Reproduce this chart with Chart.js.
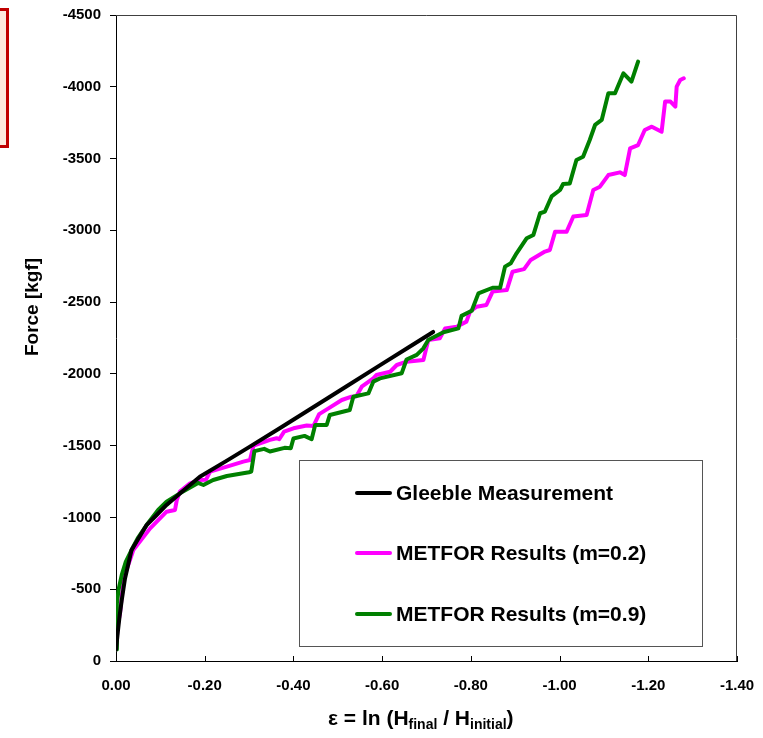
<!DOCTYPE html>
<html>
<head>
<meta charset="utf-8">
<script src="https://cdn.jsdelivr.net/npm/chart.js@4.4.1/dist/chart.umd.min.js"></script>
<style>
  html, body { margin: 0; padding: 0; background: #fff; overflow: hidden; }
  #wrap { position: relative; width: 763px; height: 738px; }
  #redbox { position: absolute; left: -20px; top: 8px; width: 29px; height: 140px;
            box-sizing: border-box; border: 3px solid #c00000; background: #fdeadf; }
</style>
</head>
<body>
<div id="wrap">
  <canvas id="c" width="763" height="738"></canvas>
  <div id="redbox"></div>
</div>
<script>
// ---- data ----
const legendLabels = ["Gleeble Measurement", "METFOR Results (m=0.2)", "METFOR Results (m=0.9)"];
const xTitle = ["ε = ln (H", "final", " / H", "initial", ")"];
const yTitle = "Force [kgf]";

const gleebleStrain = [0, -0.004, -0.008, -0.013, -0.02, -0.035, -0.05, -0.069, -0.09, -0.114, -0.15, -0.189, -0.25, -0.3, -0.37, -0.45, -0.52, -0.6, -0.66, -0.715];
const gleebleForce  = [-80, -200, -310, -425, -570, -773, -850, -947, -1012, -1087, -1182, -1284, -1396, -1490, -1623, -1778, -1914, -2070, -2186, -2292];

const m02Strain = [0, -0.004, -0.009, -0.014, -0.02, -0.039, -0.077, -0.114, -0.133, -0.137, -0.144, -0.167, -0.189, -0.203, -0.212, -0.25, -0.287, -0.302, -0.31, -0.336, -0.347, -0.362, -0.368, -0.379, -0.4, -0.43, -0.445, -0.458, -0.479, -0.509, -0.531, -0.542, -0.554, -0.58, -0.587, -0.618, -0.633, -0.655, -0.693, -0.704, -0.73, -0.742, -0.768, -0.79, -0.798, -0.813, -0.835, -0.849, -0.881, -0.894, -0.92, -0.935, -0.967, -0.978, -0.99, -1.016, -1.031, -1.061, -1.076, -1.091, -1.11, -1.136, -1.147, -1.159, -1.177, -1.192, -1.208, -1.23, -1.238, -1.25, -1.261, -1.264, -1.272, -1.28];
const m02Force  = [-80, -250, -330, -480, -600, -773, -924, -1040, -1052, -1121, -1180, -1238, -1261, -1263, -1319, -1354, -1389, -1400, -1500, -1528, -1540, -1552, -1545, -1598, -1621, -1640, -1637, -1720, -1760, -1818, -1841, -1845, -1911, -1969, -1992, -2015, -2062, -2085, -2097, -2236, -2248, -2317, -2329, -2364, -2433, -2468, -2480, -2573, -2584, -2712, -2730, -2794, -2852, -2863, -2991, -2991, -3096, -3107, -3281, -3304, -3385, -3404, -3385, -3571, -3594, -3699, -3722, -3687, -3897, -3897, -3862, -4001, -4047, -4059];

const m09Strain = [0, -0.002, -0.006, -0.013, -0.022, -0.035, -0.05, -0.069, -0.095, -0.114, -0.144, -0.165, -0.185, -0.197, -0.219, -0.25, -0.3, -0.305, -0.312, -0.334, -0.347, -0.38, -0.394, -0.4, -0.425, -0.441, -0.449, -0.475, -0.482, -0.527, -0.535, -0.569, -0.58, -0.595, -0.644, -0.655, -0.678, -0.693, -0.704, -0.738, -0.772, -0.779, -0.802, -0.817, -0.849, -0.866, -0.877, -0.89, -0.903, -0.926, -0.941, -0.956, -0.967, -0.982, -1.001, -1.008, -1.023, -1.038, -1.053, -1.068, -1.08, -1.095, -1.11, -1.125, -1.144, -1.162, -1.177];
const m09Force  = [-80, -400, -500, -600, -690, -773, -860, -947, -1052, -1110, -1168, -1205, -1240, -1226, -1261, -1289, -1315, -1320, -1462, -1478, -1459, -1485, -1482, -1550, -1568, -1545, -1644, -1644, -1714, -1748, -1841, -1864, -1946, -1969, -2004, -2100, -2132, -2178, -2236, -2290, -2317, -2404, -2440, -2561, -2600, -2600, -2747, -2771, -2840, -2945, -2968, -3119, -3131, -3236, -3281, -3323, -3327, -3490, -3513, -3629, -3734, -3769, -3955, -3955, -4094, -4036, -4175];

const xTicks = { min: -1.4, max: 0, step: 0.2 };
const yTicks = { min: -4500, max: 0, step: 500 };

function pts(xs, ys) { return xs.map((x, i) => ({ x: x, y: ys[i] })); }

const FONT = "'Liberation Sans', Arial, sans-serif";
const colors = ["#000000", "#ff00ff", "#008000"];

const decor = {
  id: 'decor',
  beforeDatasetsDraw(chart) {
    const ctx = chart.ctx, a = chart.chartArea;
    ctx.save();
    ctx.strokeStyle = '#404040'; ctx.lineWidth = 1;
    ctx.beginPath();
    ctx.moveTo(a.left, a.top + 0.5); ctx.lineTo(a.right - 0.5, a.top + 0.5);
    ctx.lineTo(a.right - 0.5, a.bottom);
    ctx.stroke();
    const xs = chart.scales.x;
    ctx.strokeStyle = '#000';
    xs.ticks.forEach(t => {
      const p = Math.round(xs.getPixelForValue(t.value)) + 0.5;
      ctx.beginPath(); ctx.moveTo(p, a.bottom); ctx.lineTo(p, a.bottom - 5); ctx.stroke();
    });
    ctx.restore();
  },
  afterDatasetsDraw(chart) {
    const ctx = chart.ctx;
    ctx.save();
    ctx.fillStyle = '#fff';
    ctx.fillRect(299.5, 460.5, 403, 186);
    ctx.strokeStyle = '#555'; ctx.lineWidth = 1;
    ctx.strokeRect(299.5, 460.5, 403, 186);
    const ys = [493, 553, 614];
    ctx.font = 'bold 21px ' + FONT;
    ctx.textBaseline = 'middle'; ctx.textAlign = 'left';
    legendLabels.forEach((lab, i) => {
      ctx.strokeStyle = colors[i]; ctx.lineWidth = 4; ctx.lineCap = 'round';
      ctx.beginPath(); ctx.moveTo(357, ys[i]); ctx.lineTo(390, ys[i]); ctx.stroke();
      ctx.fillStyle = '#000';
      ctx.fillText(lab, 396, ys[i] + 1);
    });
    ctx.save();
    ctx.translate(33, 307); ctx.rotate(-Math.PI / 2);
    ctx.font = 'bold 19px ' + FONT; ctx.textAlign = 'center'; ctx.textBaseline = 'middle';
    ctx.fillStyle = '#000';
    ctx.fillText(yTitle, 0, 0);
    ctx.restore();
    const big = 'bold 21px ' + FONT, small = 'bold 14px ' + FONT;
    const base = 725;
    ctx.textAlign = 'left'; ctx.textBaseline = 'alphabetic'; ctx.fillStyle = '#000';
    let x = 328;
    xTitle.forEach((s, i) => {
      const sub = (i === 1 || i === 3);
      ctx.font = sub ? small : big;
      ctx.fillText(s, x, sub ? base + 4 : base);
      x += ctx.measureText(s).width;
    });
    ctx.restore();
  }
};

new Chart(document.getElementById('c'), {
  type: 'scatter',
  data: {
    datasets: [
      { label: legendLabels[0], data: pts(gleebleStrain, gleebleForce), borderColor: colors[0], order: 1 },
      { label: legendLabels[1], data: pts(m02Strain, m02Force), borderColor: colors[1], order: 3 },
      { label: legendLabels[2], data: pts(m09Strain, m09Force), borderColor: colors[2], order: 2 }
    ].map(d => Object.assign(d, { showLine: true, borderWidth: 4, pointRadius: 0, tension: 0,
                                   borderJoinStyle: 'round', borderCapStyle: 'round', fill: false }))
  },
  options: {
    responsive: false,
    animation: false,
    layout: { padding: { left: 0, right: 26, top: 15, bottom: 0 } },
    plugins: { legend: { display: false }, tooltip: { enabled: false } },
    scales: {
      x: {
        type: 'linear', reverse: true, min: xTicks.min, max: xTicks.max,
        afterFit(s) { s.height = 77; s.paddingLeft = 0; s.paddingRight = 0; },
        ticks: { stepSize: xTicks.step, padding: 16, color: '#000', maxRotation: 0,
                 font: { family: FONT, size: 15, weight: 'bold' },
                 callback: v => (Math.abs(v) < 1e-9 ? 0 : v).toFixed(2) },
        grid: { drawOnChartArea: false, drawTicks: false },
        border: { display: true, color: '#000', width: 1 }
      },
      y: {
        type: 'linear', reverse: true, min: yTicks.min, max: yTicks.max,
        afterFit(s) { s.width = 116; s.paddingTop = 0; s.paddingBottom = 0; },
        ticks: { stepSize: yTicks.step, padding: 9, color: '#000',
                 font: { family: FONT, size: 15, weight: 'bold' },
                 callback: v => String(Math.round(v)) },
        grid: { drawOnChartArea: false, drawTicks: true, tickLength: 6, color: '#000' },
        border: { display: true, color: '#000', width: 1 }
      }
    }
  },
  plugins: [decor]
});
</script>
</body>
</html>
